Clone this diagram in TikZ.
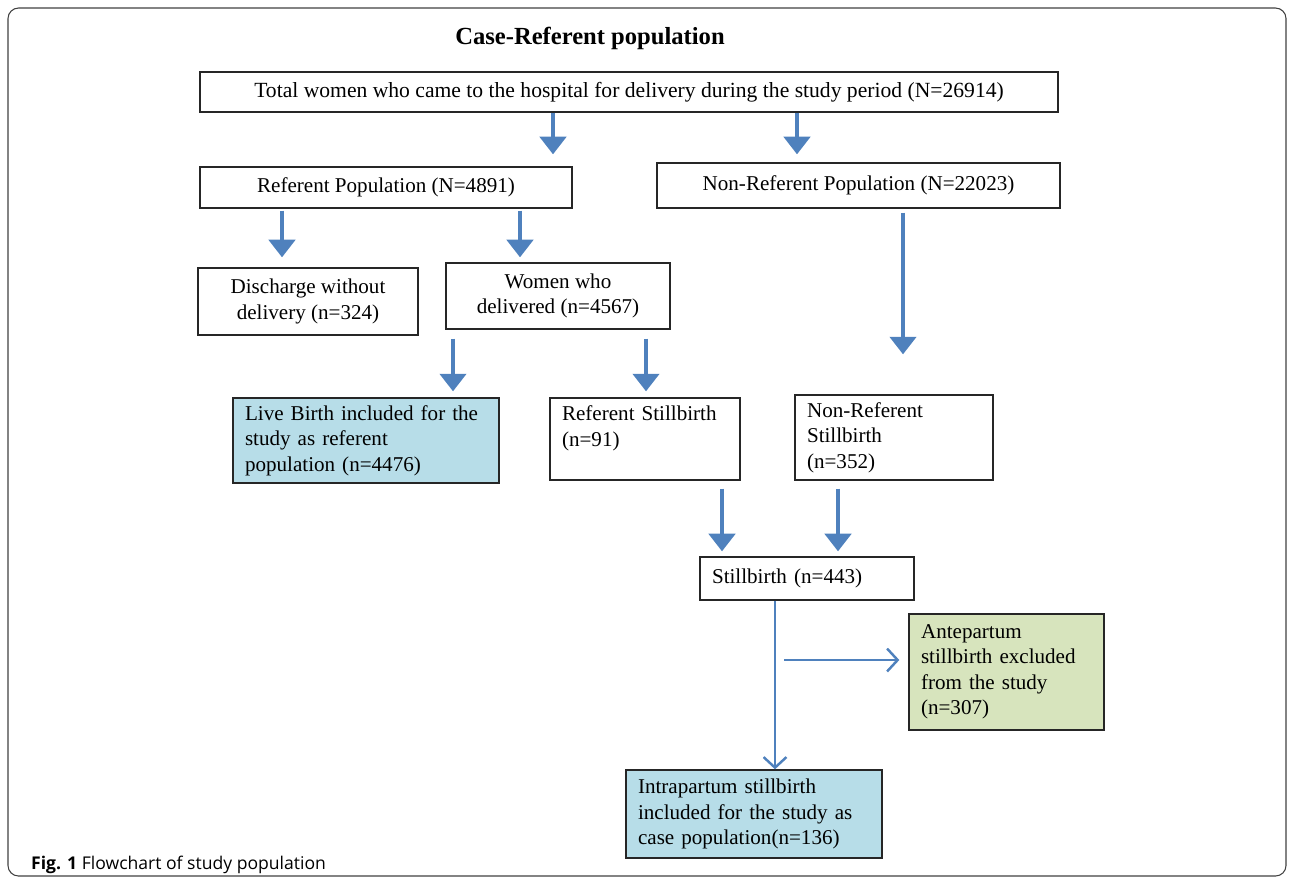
\documentclass[tikz,border=0pt]{standalone}
\usepackage{fontspec}
\setmainfont{Liberation Serif}
\newfontfamily\capfont{Open Sans}
\usepackage{tikz}
\usetikzlibrary{arrows.meta}
\usetikzlibrary{positioning}
\definecolor{arrowblue}{HTML}{4F81BD}
\definecolor{lightaqua}{HTML}{B7DDE8}
\definecolor{lightolive}{HTML}{D7E4BD}
\tikzstyle{box} = [rectangle, draw=black!85, line width=0.8pt, inner xsep=0.24cm, inner ysep=0pt, font=\fontsize{12}{14.5}\selectfont]
\tikzstyle{cbox} = [box, align=center]
\tikzstyle{lbox} = [box, align=left]
\tikzstyle{bigarrow} = [draw=arrowblue, line width=2pt, -{Triangle[width=15pt,length=10pt]}]
\tikzstyle{thinarrow} = [draw=arrowblue, line width=1.4pt, -{Straight Barb[width=13pt,length=6pt]}]

\begin{document}
\begin{tikzpicture}[x=0.02cm, y=-0.02cm]

  \useasboundingbox (0,0) rectangle (1290,877);
  \draw[black!75, line width=0.6pt, rounded corners=6pt] (8,8) rectangle (1286,876);

  \node[font=\fontsize{14}{16}\selectfont\bfseries] (title) at (590,38) {Case-Referent population};

  \node[cbox, minimum width=17.16cm, minimum height=0.8cm, font=\fontsize{12.3}{14.5}\selectfont] (total) at (629,92) {Total women who came to the hospital for delivery during the study period (N=26914)};
  \node[cbox, minimum width=7.44cm, minimum height=0.82cm] (refpop) at (386,187.5) {Referent Population (N=4891)};
  \node[cbox, minimum width=8.06cm, minimum height=0.9cm] (nonrefpop) at (858.5,185.5) {Non-Referent Population (N=22023)};
  \node[cbox, minimum width=4.4cm, minimum height=1.34cm] (discharge) at (308,301.5) {Discharge without\\delivery (n=324)};
  \node[cbox, minimum width=4.48cm, minimum height=1.32cm] (women) at (558,296) {Women who\\delivered (n=4567)};
  \node[lbox, fill=lightaqua, text width=4.84cm, minimum height=1.7cm] (live) at (366,440.5) {Live Birth included for the\\study as referent\\population (n=4476)};
  \node[lbox, text width=3.32cm, minimum height=1.64cm] (refstill) at (645,439) {Referent Stillbirth\\(n=91)\\\mbox{}};
  \node[lbox, text width=3.48cm, minimum height=1.7cm] (nonrefstill) at (894,437.5) {Non-Referent\\Stillbirth\\(n=352)};
  \node[lbox, text width=3.8cm, minimum height=0.86cm] (still) at (807,578.5) {Stillbirth (n=443)};
  \node[lbox, fill=lightolive, text width=3.42cm, minimum height=2.32cm] (ante) at (1006.5,672) {Antepartum\\stillbirth excluded\\from the study\\(n=307)};
  \node[lbox, fill=lightaqua, text width=4.64cm, minimum height=1.76cm] (intra) at (754,814) {Intrapartum stillbirth\\included for the study as\\case population(n=136)};

  % block arrows between the levels
  \foreach \from/\to/\x/\pre/\post in {total/refpop/553/0/0.24, total/nonrefpop/797/0/0.16,
      refpop/discharge/282/0.04/0.2, refpop/women/520/0.04/0.1, nonrefpop/nonrefstill/903/0.08/0.8,
      women/live/453/0.18/0.12, women/refstill/646/0.18/0.12,
      refstill/still/722/0.16/0.1, nonrefstill/still/838/0.16/0.1} {
    \draw[bigarrow, shorten <=\pre cm, shorten >=\post cm] (\from.south -| \x,0) -- (\to.north -| \x,0);
  }

  \draw[thinarrow] (still.south -| 775,0) -- (intra.north -| 775,0);
  \coordinate (branch) at (784,660);
  \draw[thinarrow, shorten >=0.18cm] (branch) -- (branch -| ante.west);

  \node[anchor=base west, font=\capfont\fontsize{10}{12}\selectfont] (caption) at (25,869) {\textbf{Fig. 1} Flowchart of study population};

\end{tikzpicture}
\end{document}
